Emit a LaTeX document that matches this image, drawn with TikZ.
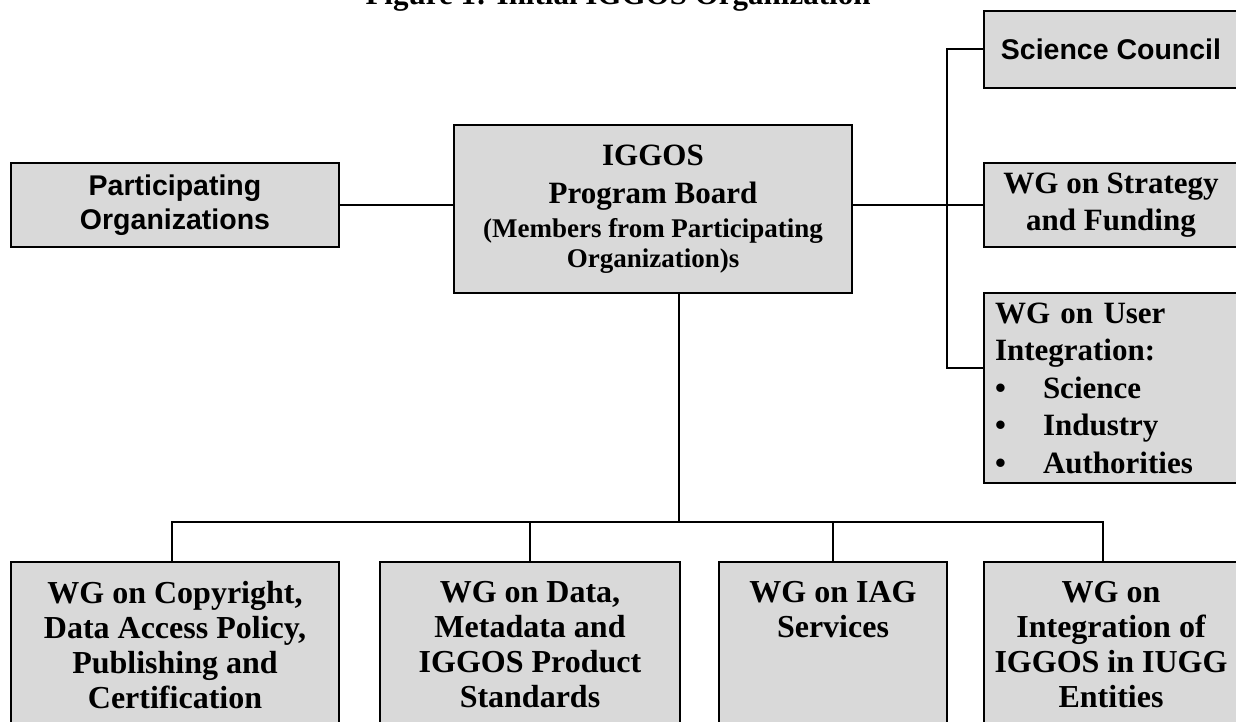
\documentclass[tikz,border=0pt]{standalone}
\usepackage{fontspec}
\setmainfont{Liberation Serif}
\newfontfamily\arialfont{Liberation Sans}

\newcommand\boardsmall{\fontsize{13.5}{15}\selectfont}
\newcommand\itembullet{\makebox[24pt][l]{\textbullet}}

\tikzset{
  box/.style={draw, line width=1.2pt, fill=black!15, inner sep=0pt, align=center},
  sansbox/.style={box, font=\arialfont\bfseries\fontsize{14.25}{17}\selectfont},
  serifbox/.style={box, font=\bfseries\fontsize{15.5}{18.5}\selectfont},
  wgbox/.style={box, anchor=north, inner ysep=9.5pt, text depth=60pt,
    font=\bfseries\fontsize{16}{17.5}\selectfont},
  link/.style={line width=1pt}
}

\begin{document}
\begin{tikzpicture}[x=0.5pt,y=-0.5pt]
  \useasboundingbox (0,0) rectangle (1236,722);

  % title, cut by the top edge
  \node[anchor=base, font=\bfseries\fontsize{15.5}{18}\selectfont] (title)
    at (618,5) {Figure 1: Initial IGGOS Organization};

  % top row
  \node[sansbox, minimum width=164pt, minimum height=42pt] (part)
    at (175,205) {Participating\\Organizations};
  \node[serifbox, minimum width=199pt, minimum height=84pt,
    font=\bfseries\fontsize{15.5}{19}\selectfont] (board)
    at (653,209) {IGGOS\\Program Board\\[-2pt]
      \boardsmall(Members from Participating\\[-4pt]
      \boardsmall Organization)s};

  % right column
  \node[sansbox, minimum width=127pt, minimum height=38.5pt] (council)
    at (1111,49.5) {Science Council};
  \node[serifbox, minimum width=127pt, minimum height=42pt] (strategy)
    at (1111,205) {WG on Strategy\\and Funding};
  \node[serifbox, minimum width=127pt, minimum height=95pt, align=left,
    text width=116pt, font=\bfseries\fontsize{15.5}{18.75}\selectfont] (users)
    at (1111,388) {WG on User\\Integration:\\\itembullet Science\\
      \itembullet Industry\\\itembullet Authorities};

  % bottom row
  \node[wgbox, minimum width=164pt] (copyright)
    at (175,561) {WG on Copyright,\\Data Access Policy,\\Publishing and\\Certification};
  \node[wgbox, minimum width=150pt] (standards)
    at (530,561) {WG on Data,\\Metadata and\\IGGOS Product\\Standards};
  \node[wgbox, minimum width=114pt] (services)
    at (833,561) {WG on IAG\\Services};
  \node[wgbox, minimum width=127pt] (entities)
    at (1111,561) {WG on\\Integration of\\IGGOS in IUGG\\Entities};

  \coordinate (spinetop) at (947,49.5);
  \coordinate (spinebot) at (947,368);
  \coordinate (bus) at (679,522);

  % connectors
  \draw[link] (part.east) -- (part.east -| board.west);
  \draw[link] (board.east |- strategy.west) -- (strategy.west);
  \draw[link] (council.west) -- (spinetop) -- (spinebot) -- (spinebot -| users.west);
  \draw[link] ([xshift=13pt]board.south) -- (bus);
  \draw[link] ([xshift=-1.5pt]copyright.north) -- ([xshift=-1.5pt]copyright.north |- bus)
    -- ([xshift=-4pt]entities.north |- bus) -- ([xshift=-4pt]entities.north);
  \draw[link] (standards.north) -- (standards.north |- bus);
  \draw[link] (services.north) -- (services.north |- bus);
\end{tikzpicture}
\end{document}
